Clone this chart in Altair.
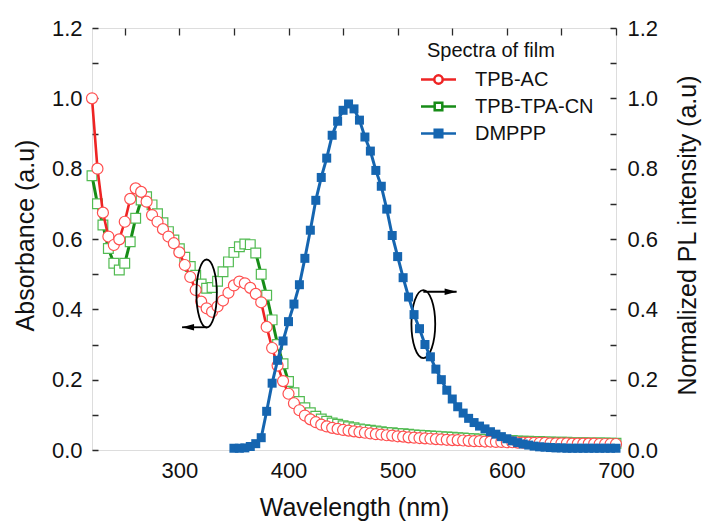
import altair as alt
import pandas as pd

W, H = 524, 422
FONT = "Liberation Sans"
TXT = "#111111"
FRAME = "#2a2a2a"

# ---------------- data ----------------
wavelength_abs = list(range(220, 701, 5))
tpb_ac = [
    1.000, 0.800, 0.675, 0.607, 0.583, 0.599, 0.649, 0.714, 0.744, 0.734,
    0.706, 0.668, 0.649, 0.628, 0.607, 0.588, 0.562, 0.526, 0.492, 0.455,
    0.422, 0.403, 0.393, 0.408, 0.425, 0.447, 0.468, 0.479, 0.474, 0.461,
    0.444, 0.420, 0.350, 0.290, 0.240, 0.196, 0.160, 0.133, 0.113, 0.098,
    0.087, 0.079, 0.072, 0.067, 0.063, 0.060, 0.057, 0.055, 0.053, 0.051,
    0.049, 0.047, 0.045, 0.044, 0.042, 0.041, 0.039, 0.038, 0.036, 0.035,
    0.034, 0.033, 0.032, 0.031, 0.030, 0.029, 0.028, 0.028, 0.027, 0.026,
    0.025, 0.025, 0.024, 0.024, 0.023, 0.023, 0.022, 0.022, 0.021, 0.021,
    0.021, 0.020, 0.020, 0.020, 0.019, 0.019, 0.019, 0.019, 0.018, 0.018,
    0.018, 0.018, 0.018, 0.017, 0.017, 0.017, 0.017,
]
tpb_tpa_cn = [
    0.780, 0.700, 0.640, 0.573, 0.531, 0.512, 0.531, 0.592, 0.659, 0.711,
    0.720, 0.697, 0.672, 0.646, 0.621, 0.597, 0.572, 0.548, 0.522, 0.497,
    0.472, 0.460, 0.462, 0.480, 0.507, 0.535, 0.562, 0.578, 0.586, 0.584,
    0.560, 0.500, 0.440, 0.370, 0.300, 0.245, 0.195, 0.163, 0.138, 0.120,
    0.106, 0.096, 0.088, 0.082, 0.077, 0.073, 0.069, 0.066, 0.063, 0.060,
    0.058, 0.056, 0.054, 0.052, 0.050, 0.049, 0.047, 0.046, 0.045, 0.043,
    0.042, 0.041, 0.040, 0.039, 0.038, 0.037, 0.036, 0.035, 0.034, 0.033,
    0.032, 0.031, 0.030, 0.030, 0.029, 0.028, 0.027, 0.027, 0.026, 0.025,
    0.025, 0.024, 0.024, 0.023, 0.023, 0.022, 0.022, 0.022, 0.021, 0.021,
    0.021, 0.020, 0.020, 0.020, 0.020, 0.019, 0.019,
]
wavelength_pl = list(range(350, 701, 5))
dmppp = [
    0.005, 0.005, 0.006, 0.010, 0.018, 0.035, 0.110, 0.190, 0.255, 0.310,
    0.365, 0.415, 0.470, 0.545, 0.625, 0.710, 0.775, 0.830, 0.895, 0.935,
    0.966, 0.984, 0.970, 0.938, 0.890, 0.850, 0.795, 0.750, 0.685, 0.610,
    0.550, 0.490, 0.435, 0.385, 0.345, 0.300, 0.265, 0.230, 0.200, 0.170,
    0.145, 0.123, 0.105, 0.090, 0.078, 0.068, 0.060, 0.052, 0.045, 0.038,
    0.032, 0.026, 0.021, 0.017, 0.014, 0.011, 0.009, 0.008, 0.007, 0.006,
    0.006, 0.005, 0.005, 0.005, 0.005, 0.005, 0.005, 0.005, 0.005, 0.005,
    0.005,
]
assert len(tpb_ac) == len(wavelength_abs) == len(tpb_tpa_cn)
assert len(dmppp) == len(wavelength_pl)

series = ["TPB-AC", "TPB-TPA-CN", "DMPPP"]
legend_title = "Spectra of film"

# annotation anchors (data units)
ellipse_wl = [325.0, 523.5]
ellipse_val = [0.445, 0.358]
arrow_from_wl = [325.0, 523.5]
arrow_to_wl = [302.5, 554.0]
arrow_val = [0.349, 0.450]

x_tick_values = list(range(250, 701, 50))
y_minor_values = [round(i * 0.1, 1) for i in range(13)]
y_major_values = [round(i * 0.2, 1) for i in range(7)]

# ---------------- styles ----------------
red_line, red_mk = "#ee2424", "#ff4f4f"
green_line, green_mk = "#178c17", "#52bb52"
blue = "#1565b0"

circle_leg = ("M-1.75,0 H-0.42 M0.42,0 H1.75 M0.42,0 C0.42,0.232 0.232,0.42 0,0.42 "
              "C-0.232,0.42 -0.42,0.232 -0.42,0 C-0.42,-0.232 -0.232,-0.42 0,-0.42 "
              "C0.232,-0.42 0.42,-0.232 0.42,0 Z")
sq_open_leg = "M-1.75,0 H-0.38 M0.38,0 H1.75 M-0.38,-0.38 H0.38 V0.38 H-0.38 Z"
sq_fill_leg = "M-1.75,0 H1.75 M-0.38,-0.38 H0.38 V0.38 H-0.38 Z"


def ellipse_path(rx):
    k = 0.5523
    return (f"M0,-1 C{k*rx:.4f},-1 {rx},-{k} {rx},0 C{rx},{k} {k*rx:.4f},1 0,1 "
            f"C-{k*rx:.4f},1 -{rx},{k} -{rx},0 C-{rx},-{k} -{k*rx:.4f},-1 0,-1 Z")


head_left = "M0,0 L2,-0.55 L2,0.55 Z"
head_right = "M0,0 L-2,-0.55 L-2,0.55 Z"

# ---------------- scales & axes ----------------
x_scale = alt.Scale(domain=[220, 700], nice=False, zero=False)
y_scale = alt.Scale(domain=[0, 1.2], nice=False, zero=False)

common_axis = dict(labelFont=FONT, labelColor=TXT, titleFont=FONT, titleColor=TXT,
                   titleFontWeight="normal", labelFlush=False, labelOverlap=False,
                   ticks=False, tickSize=0, domain=False)

x_axis = alt.Axis(values=x_tick_values,
                  labelExpr="datum.value % 100 == 0 ? datum.label : ''",
                  grid=True, gridDash=[7, 2000], gridColor=FRAME, gridWidth=1.3,
                  labelFontSize=22, labelPadding=10,
                  title="Wavelength (nm)", titleFontSize=25,
                  titleX=W / 2, titleY=57, titleAlign="center", titleBaseline="middle",
                  **common_axis)

left_axis = alt.Axis(orient="left", values=y_minor_values,
                     labelExpr="round(datum.value*10) % 2 == 0 ? format(datum.value, '.1f') : ''",
                     grid=True, gridDash=[6, W - 12, 6, 0], gridColor=FRAME, gridWidth=1.3,
                     labelFontSize=22, labelPadding=10,
                     title="Absorbance (a.u)", titleFontSize=25, titleAngle=270,
                     titleX=-67, titleY=H / 2 - 4, titleAlign="center", titleBaseline="middle",
                     **common_axis)

right_axis = alt.Axis(orient="right", values=y_major_values, format=".1f",
                      grid=False, labelFontSize=22, labelPadding=11,
                      title="Normalized PL intensity (a.u)", titleFontSize=25, titleAngle=270,
                      titleX=71, titleY=H / 2 - 4, titleAlign="center", titleBaseline="middle",
                      **common_axis)


def X(field="wl"):
    return alt.X(f"{field}:Q", scale=x_scale, axis=x_axis)


def YA(field="value"):
    return alt.Y(f"{field}:Q", scale=y_scale, axis=left_axis)


# ---------------- layers ----------------
ac_df = pd.DataFrame({"wl": wavelength_abs, "value": tpb_ac})
cn_df = pd.DataFrame({"wl": wavelength_abs, "value": tpb_tpa_cn})
pl_df = pd.DataFrame({"wl": wavelength_pl, "pl": dmppp})

cn_l = alt.Chart(cn_df).mark_line(color=green_line, strokeWidth=3).encode(x=X(), y=YA())
cn_p = alt.Chart(cn_df).mark_point(shape="square", size=95, filled=True, fill="white",
                                   stroke=green_mk, strokeWidth=1.2, opacity=1).encode(x=X(), y=YA())
ac_l = alt.Chart(ac_df).mark_line(color=red_line, strokeWidth=2.6).encode(x=X(), y=YA())
ac_p = alt.Chart(ac_df).mark_point(shape="circle", size=121, filled=True, fill="white",
                                   stroke=red_mk, strokeWidth=1.2, opacity=1).encode(x=X(), y=YA())

ell_df = pd.DataFrame({"wl": ellipse_wl, "value": ellipse_val})
ell1 = alt.Chart(ell_df.iloc[[0]]).mark_point(shape=ellipse_path(0.30), size=4624, filled=False,
                                              stroke="black", strokeWidth=1.8, opacity=1).encode(x=X(), y=YA())
ell2 = alt.Chart(ell_df.iloc[[1]]).mark_point(shape=ellipse_path(0.35), size=4624, filled=False,
                                              stroke="black", strokeWidth=1.8, opacity=1).encode(x=X(), y=YA())

arr_df = pd.DataFrame({"x1": arrow_from_wl, "x2": arrow_to_wl, "value": arrow_val})
arrows = alt.Chart(arr_df).mark_rule(color="black", strokeWidth=1.8).encode(
    x=X("x1"), x2="x2:Q", y=YA())
head1 = alt.Chart(arr_df.iloc[[0]]).mark_point(shape=head_left, size=144, filled=True,
                                               color="black", opacity=1).encode(x=X("x2"), y=YA())
head2 = alt.Chart(arr_df.iloc[[1]]).mark_point(shape=head_right, size=144, filled=True,
                                               color="black", opacity=1).encode(x=X("x2"), y=YA())

legend_spec = alt.Legend(title=legend_title, orient="none", legendX=335, legendY=13,
                         symbolSize=400, symbolStrokeWidth=2.5, symbolOpacity=1,
                         labelFont=FONT, labelFontSize=20, labelColor=TXT, labelOffset=25,
                         titleFont=FONT, titleFontSize=20, titleFontWeight="normal",
                         titleColor=TXT, titlePadding=7, rowPadding=5, padding=0)
leg_df = pd.DataFrame({"series": series})
leg = alt.Chart(leg_df).mark_point(filled=True, strokeWidth=2.5, opacity=1).encode(
    x=alt.value(-2000), y=alt.value(-2000),
    stroke=alt.Stroke("series:N", scale=alt.Scale(domain=series, range=[red_line, green_line, blue]),
                      legend=legend_spec),
    fill=alt.Fill("series:N", scale=alt.Scale(domain=series, range=["white", "white", blue]),
                  legend=legend_spec),
    shape=alt.Shape("series:N", scale=alt.Scale(domain=series, range=[circle_leg, sq_open_leg, sq_fill_leg]),
                    legend=legend_spec),
)

abs_group = alt.layer(cn_l, cn_p, ac_l, ac_p, ell1, ell2, arrows, head1, head2, leg)

YP = alt.Y("pl:Q", scale=y_scale, axis=right_axis)
pl_l = alt.Chart(pl_df).mark_line(color=blue, strokeWidth=3).encode(x=X(), y=YP)
pl_p = alt.Chart(pl_df).mark_point(shape="square", size=81, filled=True, color=blue,
                                   opacity=1).encode(x=X(), y=YP)
pl_group = alt.layer(pl_l, pl_p)

chart = (
    alt.layer(abs_group, pl_group)
    .resolve_scale(y="independent")
    .properties(width=W, height=H, background="white",
                autosize=alt.AutoSizeParams(type="none"),
                padding={"left": 92, "top": 28, "right": 87, "bottom": 77})
    .configure_view(stroke=FRAME, strokeWidth=1.6)
    .configure(font=FONT)
)

chart.save("out.html", embed_options={"renderer": "svg", "actions": False})
